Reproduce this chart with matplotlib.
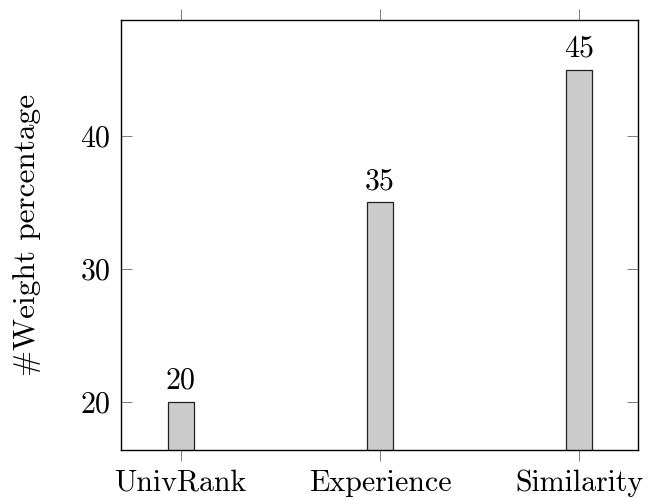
import numpy as np
import matplotlib.pyplot as plt

plt.rcParams["font.family"] = "serif"
plt.rcParams["font.serif"] = ["cmr10"]
plt.rcParams["mathtext.fontset"] = "cm"
plt.rcParams["axes.formatter.use_mathtext"] = True

categories = ["UnivRank", "Experience", "Similarity"]
weights = [20, 35, 45]
yticks = [20, 30, 40]

fig = plt.figure(figsize=(6.48, 5.0), dpi=100)
ax = fig.add_axes([120.7 / 648, 50 / 500, (638 - 120.7) / 648, 430 / 500])

x = np.arange(len(categories))
ax.bar(x, weights, width=0.132, bottom=0, color="#cccccc",
       edgecolor="#222222", linewidth=0.9, zorder=2)

# value labels above bars
for xi, v in zip(x, weights):
    ax.annotate(str(v), (xi, v), xytext=(0, 5), textcoords="offset points",
                ha="center", va="bottom", fontsize=21.5)

ax.set_xlim(-0.301, 2.295)
ax.set_ylim(16.36, 48.73)
ax.set_xticks(x)
ax.set_xticklabels(categories)
ax.set_yticks(yticks)

ax.tick_params(axis="x", direction="out", top=True, bottom=True,
               length=8, width=0.6, color="#666666", pad=6, labelsize=21.5)
ax.tick_params(axis="y", direction="in", left=True, right=True,
               length=8, width=0.6, color="#666666", pad=7, labelsize=21.5)

for s in ax.spines.values():
    s.set_linewidth(1.0)
    s.set_color("black")

ax.set_ylabel("#Weight percentage", fontsize=22.5, labelpad=28)

fig.savefig("out.png", dpi=100)
